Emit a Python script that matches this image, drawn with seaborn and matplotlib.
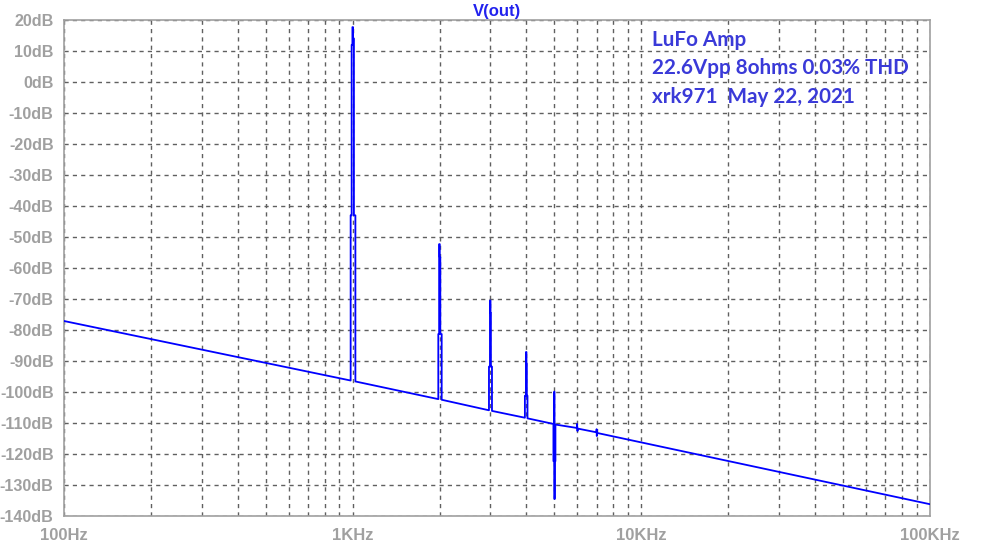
import matplotlib
matplotlib.use("Agg")
import matplotlib.pyplot as plt
import matplotlib.ticker as mticker
import seaborn as sns
import pandas as pd

# ---- data (FFT of V(out)) ----
freq_hz = [100,
           984, 984, 992, 992, 998, 998, 1003, 1003, 1010, 1010, 1022, 1022,
           1980, 1980, 1993, 1993, 2003, 2003, 2012, 2012, 2034, 2034,
           2966, 2966, 2990, 2990, 3003, 3003, 3012, 3012, 3038, 3038,
           3950, 3950, 3985, 3985, 4000, 4000, 4012, 4012, 4033, 4033,
           4960, 4960, 4990, 4990, 5000, 5000, 5010, 5010, 5040, 5040,
           5980, 5990, 6010, 6020,
           6990, 7000, 7010, 7020,
           100000]
level_db = [-77.1,
            -96.3, -43, -43, 12, 12, 17.7, 17.7, 14, 14, -43, -43, -96.6,
            -102.3, -81.3, -81.3, -52.3, -52.3, -56.5, -56.5, -81.3, -81.3, -102.5,
            -105.9, -91.8, -91.8, -70.5, -70.5, -74.5, -74.5, -91.8, -91.8, -106.1,
            -108.3, -101.2, -101.2, -87.1, -87.1, -91.0, -91.0, -101.2, -101.2, -108.5,
            -110.3, -122.3, -122.3, -99.9, -99.9, -134.5, -134.5, -122.3, -122.3, -110.5,
            -111.6, -110.3, -112.6, -111.8,
            -113.0, -112.0, -114.2, -113.2,
            -136.2]

y_ticks = list(range(20, -141, -10))
y_labels = [f"{v}dB" for v in y_ticks]
x_major = [100, 1000, 10000, 100000]
x_labels = ["100Hz", "1KHz", "10KHz", "100KHz"]
title = "V(out)"
note_lines = ["LuFo Amp", "22.6Vpp 8ohms 0.03% THD", "xrk971  May 22, 2021"]

df = pd.DataFrame({"freq": freq_hz, "db": level_db})

sns.set_style("white")
plt.rcParams["font.family"] = ["Liberation Sans", "DejaVu Sans"]

fig = plt.figure(figsize=(10.04, 5.46), dpi=100)
ax = fig.add_axes([64 / 1004, 1 - 516 / 546, (930 - 64) / 1004, (516 - 20) / 546])

sns.lineplot(data=df, x="freq", y="db", ax=ax, sort=False, estimator=None,
             color="#0000ff", linewidth=1.3, zorder=3)

ax.set_xscale("log")
ax.set_xlim(100, 100000)
ax.set_ylim(-140, 20)

gray = "#a0a0a0"
ax.xaxis.set_major_locator(mticker.FixedLocator(x_major))
ax.xaxis.set_major_formatter(mticker.FixedFormatter(x_labels))
ax.xaxis.set_minor_locator(mticker.LogLocator(base=10, subs=range(2, 10)))
ax.xaxis.set_minor_formatter(mticker.NullFormatter())
ax.yaxis.set_major_locator(mticker.FixedLocator(y_ticks))
ax.yaxis.set_major_formatter(mticker.FixedFormatter(y_labels))

ax.tick_params(axis="both", which="both", colors=gray, labelcolor=gray,
               direction="out", width=1)
ax.tick_params(axis="y", which="major", length=7, labelsize=11.6, pad=0.5)
ax.tick_params(axis="x", which="major", length=4, labelsize=12, pad=5)
ax.tick_params(axis="x", which="minor", length=4)
for lab in ax.get_xticklabels() + ax.get_yticklabels():
    lab.set_fontweight("bold")

ax.grid(True, which="both", axis="x", color="#606060", linestyle=(0, (3, 3)), linewidth=1)
ax.grid(True, which="major", axis="y", color="#606060", linestyle=(0, (3, 3)), linewidth=1)

for s in ax.spines.values():
    s.set_visible(True)
    s.set_color(gray)
    s.set_linewidth(1.2)

ax.set_xlabel("")
ax.set_ylabel("")
ax.set_title(title, color="#2222ee", fontsize=12, fontweight="bold", pad=3)

for i, line in enumerate(note_lines):
    fig.text(652 / 1004, 1 - (40 + i * 28.5) / 546, line, color="#3a3ad8",
             fontsize=14.9, fontweight="bold", family=["Lato", "DejaVu Sans"],
             ha="left", va="center")

fig.savefig("out.png", dpi=100)
